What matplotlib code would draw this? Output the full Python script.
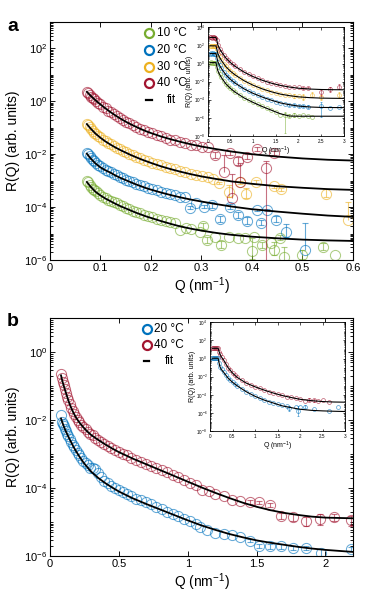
import numpy as np
import matplotlib
matplotlib.use('Agg')
import matplotlib.pyplot as plt
from matplotlib.ticker import LogLocator, NullFormatter

plt.rcParams['font.family'] = ['Liberation Sans', 'DejaVu Sans']
plt.rcParams['mathtext.default'] = 'regular'

C10 = '#77AC30'; C20 = '#0072BD'; C30 = '#EDB120'; C40 = '#A2142F'

# ================= Panel a (main) : log10 R(Q) =================
qa_dense = [0.073,0.076,0.079,0.082,0.085,0.088,0.092,0.096,0.100,0.105,0.110,0.115,0.120,0.126,0.132,
            0.138,0.144,0.150,0.157,0.164,0.171,0.178,0.186,0.194,0.202,0.211,0.220,0.229,0.238,0.248,
            0.258,0.268,0.279,0.290,0.301]
a40_y = [0.34,0.30,0.24,0.18,0.14,0.08,0.02,-0.05,-0.11,-0.20,-0.26,-0.35,-0.40,-0.49,-0.55,-0.64,-0.70,-0.78,
         -0.83,-0.91,-0.96,-1.04,-1.09,-1.17,-1.20,-1.28,-1.31,-1.39,-1.45,-1.47,-1.53,-1.57,-1.64,-1.66,-1.73]
a30_y = [-0.84,-0.91,-0.97,-1.06,-1.11,-1.18,-1.23,-1.31,-1.36,-1.45,-1.50,-1.58,-1.62,-1.70,-1.75,-1.82,-1.86,
         -1.93,-1.98,-2.04,-2.10,-2.15,-2.21,-2.26,-2.32,-2.38,-2.42,-2.49,-2.52,-2.57,-2.63,-2.66,-2.73,-2.77,-2.83]
a20_y = [-1.96,-2.00,-2.06,-2.14,-2.22,-2.26,-2.33,-2.40,-2.45,-2.53,-2.58,-2.65,-2.68,-2.76,-2.80,-2.86,-2.90,
         -2.97,-3.01,-3.07,-3.12,-3.18,-3.22,-3.27,-3.33,-3.37,-3.42,-3.46,-3.51,-3.55,-3.60,-3.63]
a10_y = [-3.03,-3.07,-3.15,-3.24,-3.30,-3.35,-3.40,-3.47,-3.53,-3.61,-3.66,-3.72,-3.76,-3.82,-3.86,-3.92,-3.97,
         -4.03,-4.07,-4.13,-4.18,-4.24,-4.29,-4.33,-4.39,-4.44,-4.48,-4.52,-4.56,-4.60]

# sparse points with error bars (extent below / above in decades)
a40_sq = [0.312,0.327,0.344,0.356,0.360,0.372,0.376,0.390,0.410,0.427,0.444]
a40_sy = [-1.74,-2.03,-2.66,-1.96,-3.66,-2.24,-3.07,-2.09,-1.81,-2.53,-1.96]
a40_lo = [0,0.1,0,0.08,0,0.15,0,0.08,0.08,4,0.08]
a40_hi = [0,0.1,0.62,0.08,0.9,0.12,0.75,0.08,0.08,0.29,0.08]

a30_sq = [0.312,0.322,0.334,0.354,0.376,0.388,0.408,0.444,0.457,0.546,0.590]
a30_sy = [-2.88,-2.93,-3.09,-3.43,-3.07,-3.51,-3.05,-3.22,-3.32,-3.50,-4.47]
a30_lo = [0,0,0.05,0.2,0.06,0.15,0.06,0.06,0.08,0.12,0]
a30_hi = [0,0,0.05,0.28,0.06,0.25,0.08,0.06,0.06,0.2,0.68]

a20_sq = [0.278,0.290,0.304,0.321,0.337,0.356,0.372,0.390,0.410,0.418,0.430,0.448,0.468,0.505]
a20_sy = [-4.02,-3.85,-3.98,-3.92,-4.46,-3.98,-4.30,-4.51,-4.11,-4.59,-4.11,-4.48,-4.93,-5.62]
a20_lo = [0.05,0,0.06,0.1,0.12,0.08,0.12,0.12,0.05,0.1,0.05,0.1,0.2,0]
a20_hi = [0.05,0,0.06,0.1,0.12,0.08,0.12,0.15,0.05,0.1,0.05,0.15,0.3,1.0]

a10_sq = [0.258,0.270,0.280,0.298,0.303,0.311,0.327,0.339,0.354,0.372,0.387,0.400,0.403,0.420,0.438,
          0.443,0.455,0.464,0.499,0.541,0.564]
a10_sy = [-4.86,-4.80,-4.84,-4.93,-4.71,-5.24,-5.12,-5.43,-5.14,-5.18,-5.18,-5.66,-5.14,-5.43,-5.37,
          -5.62,-5.16,-5.90,-5.81,-5.52,-5.81]
a10_lo = [0,0,0,0,0.1,0.12,0,0.12,0,0,0,0.3,0,0.1,0,0.2,0.1,0.3,0.15,0.12,0]
a10_hi = [0,0,0,0,0.12,0.12,0,0.15,0,0,0,0.5,0,0.1,0,0.3,0.1,0.4,0.2,0.15,0]

fa_q = [0.073,0.08,0.09,0.10,0.11,0.12,0.13,0.14,0.15,0.16,0.17,0.18,0.19,0.20,0.22,0.24,0.26,0.28,0.30,
        0.33,0.36,0.40,0.45,0.50,0.55,0.60]
fa40 = [0.36,0.22,0.04,-0.12,-0.27,-0.41,-0.54,-0.66,-0.77,-0.87,-0.96,-1.05,-1.13,-1.20,-1.33,-1.44,-1.54,
        -1.63,-1.71,-1.81,-1.90,-2.00,-2.09,-2.16,-2.21,-2.24]
fa30 = [-0.86,-1.02,-1.22,-1.38,-1.52,-1.64,-1.75,-1.85,-1.94,-2.03,-2.11,-2.19,-2.26,-2.33,-2.46,-2.57,-2.67,
        -2.76,-2.84,-2.94,-3.03,-3.12,-3.21,-3.27,-3.32,-3.35]
fa20 = [-1.98,-2.15,-2.35,-2.50,-2.61,-2.70,-2.81,-2.90,-2.98,-3.06,-3.14,-3.21,-3.28,-3.34,-3.45,-3.55,-3.64,
        -3.72,-3.79,-3.89,-3.98,-4.08,-4.17,-4.25,-4.32,-4.37]
fa10 = [-3.05,-3.22,-3.42,-3.56,-3.68,-3.78,-3.88,-3.97,-4.05,-4.13,-4.21,-4.28,-4.35,-4.41,-4.53,-4.64,-4.74,
        -4.82,-4.89,-4.98,-5.05,-5.12,-5.18,-5.23,-5.26,-5.28]

# ================= Panel a inset =================
ia_q = [0.05,0.07,0.09,0.11,0.13,0.15,0.17,0.20,0.23,0.26,0.30,0.35,0.40,0.45,0.50,0.55,0.60,0.70,0.80,
        0.90,1.00,1.10,1.20,1.30,1.40,1.50]
ia40_y = [2.88,2.9,2.87,2.89,2.88,2.86,2.87,2.55,2.0,1.65,1.32,0.95,0.62,0.35,0.12,-0.1,-0.3,-0.62,-0.92,
          -1.2,-1.42,-1.62,-1.82,-2.0,-2.15,-2.3]
ia30_y = [1.95,1.97,1.94,1.96,1.95,1.93,1.94,1.55,1.05,0.75,0.38,0.0,-0.32,-0.6,-0.85,-1.05,-1.25,-1.6,-1.9,
          -2.17,-2.4,-2.6,-2.8,-2.97,-3.12,-3.25]
ia20_y = [1.1,1.12,1.09,1.11,1.1,1.08,1.09,0.65,0.15,-0.15,-0.52,-0.9,-1.22,-1.5,-1.75,-1.95,-2.15,-2.5,-2.8,
          -3.07,-3.3,-3.5,-3.7,-3.88,-4.05,-4.2]
ia10_y = [0.1,0.12,0.09,0.11,0.1,0.08,0.09,-0.35,-0.85,-1.15,-1.52,-1.9,-2.22,-2.5,-2.75,-2.95,-3.15,-3.5,
          -3.8,-4.07,-4.3,-4.52,-4.72,-4.92,-5.1,-5.3]
ia40_sq = [1.6,1.7,1.8,1.9,2.0,2.1,2.2,2.5,2.7,2.9]
ia40_sy = [-2.4,-2.5,-2.58,-2.62,-2.55,-2.7,-2.65,-3.2,-2.85,-2.55]
ia40_lo = [0,0,0,0,0,0.1,0.1,0.4,0.3,0.3]
ia40_hi = [0,0,0,0,0,0.1,0.1,0.4,0.3,0.3]
ia30_sq = [1.6,1.7,1.8,1.9,2.0,2.1,2.3,2.5,2.9]
ia30_sy = [-3.35,-3.45,-3.5,-3.6,-3.55,-3.7,-3.45,-3.75,-3.5]
ia30_lo = [0,0,0,0.2,0,0.3,0.2,0.3,0.3]
ia30_hi = [0,0,0,0.2,0,0.3,0.3,0.3,0.3]
ia20_sq = [1.6,1.7,1.8,1.9,2.0,2.1,2.2,2.5,2.7,2.9]
ia20_sy = [-4.35,-4.45,-4.55,-4.6,-4.7,-4.65,-4.75,-4.7,-4.9,-4.85]
ia20_lo = [0,0,0.1,0.1,0.1,0.1,0.15,1.2,0,0]
ia20_hi = [0,0,0.1,0.1,0.1,0.1,0.15,0.5,0,0]
ia10_sq = [1.6,1.7,1.8,1.9,2.0,2.1,2.2,2.3]
ia10_sy = [-5.7,-5.65,-5.75,-5.7,-5.75,-5.7,-5.8,-5.95]
ia10_lo = [0,2,0.2,0.2,0,0,0,0]
ia10_hi = [0,0.3,0.2,0.2,0,0,0,0]

fi_q = [0.05,0.18,0.20,0.22,0.25,0.30,0.40,0.50,0.60,0.80,1.00,1.20,1.40,1.60,1.80,2.00,2.25,2.50,2.75,3.00]
fia40 = [2.88,2.88,2.6,2.1,1.75,1.3,0.6,0.1,-0.3,-0.95,-1.45,-1.85,-2.17,-2.42,-2.6,-2.73,-2.82,-2.87,-2.89,-2.9]
fia30 = [1.95,1.95,1.6,1.15,0.8,0.35,-0.35,-0.85,-1.25,-1.9,-2.4,-2.8,-3.12,-3.38,-3.55,-3.68,-3.77,-3.82,-3.84,-3.85]
fia20 = [1.1,1.1,0.7,0.25,-0.1,-0.55,-1.25,-1.75,-2.15,-2.8,-3.3,-3.7,-4.05,-4.35,-4.55,-4.7,-4.8,-4.85,-4.86,-4.87]
fia10 = [0.1,0.1,-0.3,-0.75,-1.1,-1.55,-2.25,-2.75,-3.15,-3.8,-4.3,-4.75,-5.15,-5.55,-5.8,-5.82,-5.82,-5.82,-5.82,-5.82]

# ================= Panel b (main) =================
qb_dense = [0.078,0.085,0.092,0.099,0.107,0.115,0.124,0.133,0.143,0.153,0.164,0.175,0.187,0.200,0.213,0.227,
            0.242,0.258,0.275,0.292,0.310,0.330,0.350,0.372,0.395,0.420,0.445,0.472,0.500,0.530,0.560,0.590,
            0.625,0.660,0.695,0.730,0.770,0.810,0.850,0.890,0.930,0.975,1.020,1.060]
b40_y = [-0.64,-0.76,-0.88,-0.97,-1.08,-1.19,-1.31,-1.42,-1.53,-1.63,-1.72,-1.82,-1.90,-1.98,-2.06,-2.13,
         -2.20,-2.27,-2.34,-2.40,-2.45,-2.52,-2.57,-2.63,-2.69,-2.76,-2.82,-2.88,-2.94,-2.99,-3.04,-3.10,
         -3.16,-3.22,-3.28,-3.34,-3.41,-3.47,-3.54,-3.61,-3.68,-3.76,-3.84,-3.91]
b20_y = [-1.86,-2.05,-2.12,-2.17,-2.26,-2.33,-2.40,-2.47,-2.55,-2.63,-2.72,-2.80,-2.88,-2.96,-3.04,-3.12,
         -3.20,-3.27,-3.33,-3.40,-3.42,-3.45,-3.55,-3.68,-3.78,-3.86,-3.93,-4.00,-4.06,-4.12,-4.18,-4.24,
         -4.31,-4.36,-4.42,-4.48,-4.55,-4.62,-4.69,-4.76,-4.83,-4.90,-4.98,-5.06]
b40_sq = [1.102,1.151,1.199,1.260,1.320,1.381,1.449,1.521,1.594,1.677,1.763,1.860,1.957,2.064,2.185]
b40_sy = [-4.05,-4.10,-4.17,-4.22,-4.34,-4.37,-4.41,-4.42,-4.49,-4.82,-4.86,-4.96,-4.91,-4.86,-4.93]
b40_lo = [0,0,0,0,0,0,0.05,0.05,0.06,0.1,0.1,0.15,0.18,0.12,0.18]
b40_hi = [0,0,0,0,0,0,0.05,0.05,0.06,0.1,0.1,0.12,0.15,0.1,0.12]
b20_sq = [1.090,1.143,1.199,1.260,1.320,1.381,1.449,1.521,1.599,1.677,1.763,1.860,1.966,2.185]
b20_sy = [-5.15,-5.23,-5.31,-5.36,-5.38,-5.45,-5.55,-5.70,-5.72,-5.72,-5.77,-5.77,-5.90,-5.80]
b20_lo = [0,0,0,0,0,0,0.05,0.06,0.06,0.06,0.06,0.06,0.1,0.06]
b20_hi = [0,0,0,0,0,0,0.05,0.06,0.06,0.06,0.06,0.06,0.1,0.06]

fb_q = [0.08,0.09,0.10,0.11,0.12,0.135,0.15,0.17,0.19,0.21,0.24,0.27,0.30,0.35,0.40,0.45,0.50,0.60,0.70,
        0.80,0.90,1.00,1.10,1.20,1.30,1.40,1.50,1.60,1.70,1.80,1.90,2.00,2.10,2.20]
fb40 = [-0.68,-0.85,-0.99,-1.12,-1.25,-1.44,-1.60,-1.78,-1.93,-2.05,-2.20,-2.33,-2.44,-2.58,-2.71,-2.83,-2.94,
        -3.13,-3.30,-3.47,-3.64,-3.81,-3.98,-4.14,-4.29,-4.43,-4.55,-4.65,-4.73,-4.79,-4.84,-4.87,-4.88,-4.89]
fb20 = [-1.95,-2.07,-2.18,-2.28,-2.37,-2.50,-2.62,-2.78,-2.92,-3.05,-3.23,-3.38,-3.52,-3.70,-3.85,-3.98,-4.10,
        -4.30,-4.47,-4.63,-4.79,-4.95,-5.10,-5.23,-5.35,-5.45,-5.54,-5.61,-5.67,-5.73,-5.78,-5.82,-5.85,-5.88]

# ================= Panel b inset =================
ib_q = [0.05,0.07,0.09,0.11,0.13,0.15,0.17,0.20,0.23,0.26,0.30,0.35,0.40,0.45,0.50,0.55,0.60,0.70,0.80,
        0.90,1.00,1.10,1.20,1.30,1.40,1.50,1.60,1.70]
ib40_y = [1.13,1.15,1.12,1.14,1.13,1.11,1.12,0.75,0.45,0.2,-0.15,-0.6,-1.0,-1.3,-1.6,-1.85,-2.07,-2.42,-2.7,
          -2.92,-3.12,-3.3,-3.48,-3.65,-3.8,-3.95,-4.08,-4.2]
ib20_y = [0.03,0.05,0.02,0.04,0.03,0.01,0.02,-0.5,-0.95,-1.2,-1.5,-1.85,-2.15,-2.4,-2.62,-2.82,-3.0,-3.35,
          -3.65,-3.92,-4.17,-4.38,-4.58,-4.75,-4.9,-5.05,-5.15,-5.25]
ib40_sq = [1.8,1.9,2.0,2.1,2.2,2.3,2.4,2.5,2.65]
ib40_sy = [-4.3,-4.38,-4.5,-4.65,-4.55,-4.6,-4.7,-4.62,-4.75]
ib40_lo = [0,0,0,0,0.15,0.15,0,0,0]
ib40_hi = [0,0,0,0,0.15,0.15,0,0,0]
ib20_sq = [1.75,1.9,1.95,2.0,2.1,2.3,2.65,2.85]
ib20_sy = [-5.5,-5.35,-5.75,-5.35,-5.3,-5.6,-5.75,-5.3]
ib20_lo = [0.3,0,0.6,0,0.2,0,0,0]
ib20_hi = [0.3,0,0.5,0,0.2,0,0,0]
fib40 = [1.13,1.13,0.8,0.5,0.2,-0.15,-1.0,-1.6,-2.07,-2.7,-3.12,-3.48,-3.8,-4.08,-4.3,-4.5,-4.65,-4.75,-4.8,-4.82]
fib20 = [0.03,0.03,-0.45,-0.9,-1.2,-1.5,-2.15,-2.62,-3.0,-3.65,-4.17,-4.58,-4.9,-5.22,-5.42,-5.6,-5.72,-5.78,-5.82,-5.85]

# ticks / labels
xa_ticks = [0, 0.1, 0.2, 0.3, 0.4, 0.5, 0.6]
xa_labels = ['0', '0.1', '0.2', '0.3', '0.4', '0.5', '0.6']
xb_ticks = [0, 0.5, 1, 1.5, 2]
xb_labels = ['0', '0.5', '1', '1.5', '2']
xi_ticks = [0, 0.5, 1, 1.5, 2, 2.5, 3]
xi_labels = ['0', '0.5', '1', '1.5', '2', '2.5', '3']
ya_ticks = [1e-6, 1e-4, 1e-2, 1e0, 1e2]
yb_ticks = [1e-6, 1e-4, 1e-2, 1e0]
yi_ticks = [1e-8, 1e-6, 1e-4, 1e-2, 1e0, 1e2, 1e4]
legend_a = [('10 °C', C10), ('20 °C', C20), ('30 °C', C30), ('40 °C', C40)]
legend_b = [('20 °C', C20), ('40 °C', C40)]

fig = plt.figure(figsize=(3.9, 5.93), dpi=100)


def P(v):
    return 10.0 ** np.asarray(v, dtype=float)


def draw_series(ax, q, y, sq, sy, lo, hi, color, ms, mew, elw, cap, alpha=0.6):
    ax.plot(q, P(y), ls='none', marker='o', mfc='none', mec=color, ms=ms, mew=mew, alpha=alpha)
    ax.plot(sq, P(sy), ls='none', marker='o', mfc='none', mec=color, ms=ms, mew=mew, alpha=alpha)
    sq = np.asarray(sq); sy = np.asarray(sy, float); lo = np.asarray(lo, float); hi = np.asarray(hi, float)
    m = (lo > 0) | (hi > 0)
    ylo = P(sy - lo); yhi = P(sy + hi)
    ax.vlines(sq[m], ylo[m], yhi[m], colors=color, lw=elw, alpha=alpha)
    mh = hi > 0
    ax.plot(sq[mh], yhi[mh], ls='none', marker='_', mec=color, ms=cap, mew=elw, alpha=alpha)
    ml = (lo > 0) & (lo < 3)
    ax.plot(sq[ml], ylo[ml], ls='none', marker='_', mec=color, ms=cap, mew=elw, alpha=alpha)


def style(ax, xlim, ylim, xt, xl, yt, lab, tl, mj, mn, lw):
    ax.set_yscale('log')
    ax.set_xlim(*xlim)
    ax.set_ylim(*ylim)
    ax.set_xticks(xt, xl)
    ax.set_yticks(yt)
    ax.yaxis.set_minor_locator(LogLocator(base=10, subs=np.arange(1, 10), numticks=200))
    ax.yaxis.set_minor_formatter(NullFormatter())
    ax.tick_params(which='both', direction='in', top=True, right=True, width=lw * 0.8)
    ax.tick_params(which='major', length=mj, labelsize=tl, pad=2)
    ax.tick_params(which='minor', length=mn)
    for s in ax.spines.values():
        s.set_linewidth(lw)


# ---------- panel a ----------
axa = fig.add_axes([0.1282, 0.5616, 0.7769, 0.4013])
style(axa, (0, 0.6), (1e-6, 1e3), xa_ticks, xa_labels, ya_ticks, None, 8, 3.5, 2, 0.8)
for (q, y, sq, sy, lo, hi, c) in [
        (qa_dense[:len(a10_y)], a10_y, a10_sq, a10_sy, a10_lo, a10_hi, C10),
        (qa_dense[:len(a20_y)], a20_y, a20_sq, a20_sy, a20_lo, a20_hi, C20),
        (qa_dense, a30_y, a30_sq, a30_sy, a30_lo, a30_hi, C30),
        (qa_dense, a40_y, a40_sq, a40_sy, a40_lo, a40_hi, C40)]:
    draw_series(axa, q, y, sq, sy, lo, hi, c, 7.3, 0.75, 0.8, 4.5)
for f in (fa10, fa20, fa30, fa40):
    axa.plot(fa_q, P(f), color='k', lw=1.3)
axa.set_xlabel('Q (nm$^{-1}$)', fontsize=10, labelpad=2)
axa.set_ylabel('R(Q) (arb. units)', fontsize=10, labelpad=3)

ys = [0.952, 0.882, 0.812, 0.742]
for (lab, c), yy in zip(legend_a, ys):
    axa.plot([0.327], [yy], transform=axa.transAxes, marker='o', mfc='none', mec=c, ms=6.5, mew=1.6,
             clip_on=False)
    axa.text(0.352, yy, lab, transform=axa.transAxes, fontsize=8.5, va='center', ha='left')
axa.plot([0.318, 0.336], [0.672, 0.672], transform=axa.transAxes, color='k', lw=1.6)
axa.text(0.385, 0.672, 'fit', transform=axa.transAxes, fontsize=8.5, va='center', ha='left')

# inset a
iaa = fig.add_axes([0.5326, 0.7707, 0.3495, 0.1833])
style(iaa, (0, 3), (1e-8, 1e4), xi_ticks, xi_labels, yi_ticks, None, 3.3, 1.8, 1.0, 0.6)
for (y, sq, sy, lo, hi, c) in [(ia10_y, ia10_sq, ia10_sy, ia10_lo, ia10_hi, C10),
                               (ia20_y, ia20_sq, ia20_sy, ia20_lo, ia20_hi, C20),
                               (ia30_y, ia30_sq, ia30_sy, ia30_lo, ia30_hi, C30),
                               (ia40_y, ia40_sq, ia40_sy, ia40_lo, ia40_hi, C40)]:
    draw_series(iaa, ia_q, y, sq, sy, lo, hi, c, 2.8, 0.5, 0.5, 2.0, alpha=0.7)
for f in (fia10, fia20, fia30, fia40):
    iaa.plot(fi_q, P(f), color='k', lw=0.8)
iaa.set_xlabel('Q (nm$^{-1}$)', fontsize=5, labelpad=0.5)
iaa.set_ylabel('R(Q) (arb. units)', fontsize=5, labelpad=0.5)

# ---------- panel b ----------
axb = fig.add_axes([0.1282, 0.0624, 0.7769, 0.4008])
style(axb, (0, 2.2), (1e-6, 1e1), xb_ticks, xb_labels, yb_ticks, None, 8, 3.5, 2, 0.8)
for (y, sq, sy, lo, hi, c) in [(b20_y, b20_sq, b20_sy, b20_lo, b20_hi, C20),
                               (b40_y, b40_sq, b40_sy, b40_lo, b40_hi, C40)]:
    draw_series(axb, qb_dense, y, sq, sy, lo, hi, c, 7.3, 0.75, 0.8, 4.5)
for f in (fb20, fb40):
    axb.plot(fb_q, P(f), color='k', lw=1.3)
axb.set_xlabel('Q (nm$^{-1}$)', fontsize=10, labelpad=2)
axb.set_ylabel('R(Q) (arb. units)', fontsize=10, labelpad=3)

ys = [0.954, 0.888]
for (lab, c), yy in zip(legend_b, ys):
    axb.plot([0.319], [yy], transform=axb.transAxes, marker='o', mfc='none', mec=c, ms=6.5, mew=1.6,
             clip_on=False)
    axb.text(0.344, yy, lab, transform=axb.transAxes, fontsize=8.5, va='center', ha='left')
axb.plot([0.31, 0.328], [0.822, 0.822], transform=axb.transAxes, color='k', lw=1.6)
axb.text(0.38, 0.822, 'fit', transform=axb.transAxes, fontsize=8.5, va='center', ha='left')

iab = fig.add_axes([0.5385, 0.2732, 0.3462, 0.1833])
style(iab, (0, 3), (1e-8, 1e4), xi_ticks, xi_labels, yi_ticks, None, 3.3, 1.8, 1.0, 0.6)
for (y, sq, sy, lo, hi, c) in [(ib20_y, ib20_sq, ib20_sy, ib20_lo, ib20_hi, C20),
                               (ib40_y, ib40_sq, ib40_sy, ib40_lo, ib40_hi, C40)]:
    draw_series(iab, ib_q, y, sq, sy, lo, hi, c, 2.8, 0.5, 0.5, 2.0, alpha=0.7)
for f in (fib20, fib40):
    iab.plot(fi_q, P(f), color='k', lw=0.8)
iab.set_xlabel('Q (nm$^{-1}$)', fontsize=5, labelpad=0.5)
iab.set_ylabel('R(Q) (arb. units)', fontsize=5, labelpad=0.5)

fig.text(0.018, 0.947, 'a', fontsize=14, fontweight='bold', ha='left', va='baseline')
fig.text(0.018, 0.450, 'b', fontsize=14, fontweight='bold', ha='left', va='baseline')

fig.savefig('out.png', dpi=100)
